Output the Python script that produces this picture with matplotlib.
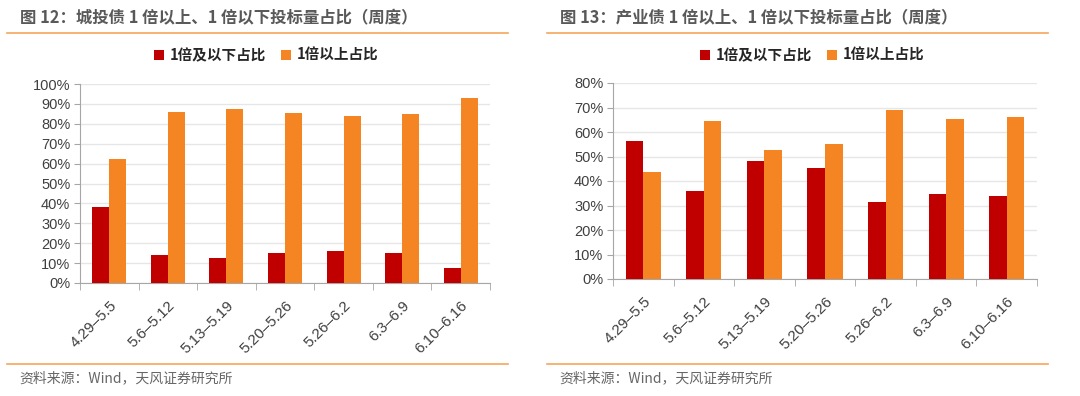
import matplotlib
matplotlib.use("Agg")
import matplotlib.pyplot as plt
import numpy as np
from matplotlib.ticker import FuncFormatter, MultipleLocator

plt.rcParams["font.family"] = ["Liberation Sans", "Noto Sans CJK SC", "DejaVu Sans"]

weeks = ["4.29–5.5", "5.6–5.12", "5.13–5.19", "5.20–5.26", "5.26–6.2", "6.3–6.9", "6.10–6.16"]
series_names = ["1倍及以下占比", "1倍以上占比"]

# 城投债
chengtou_low = [38.1, 14.3, 12.4, 14.9, 16.3, 15.3, 7.6]
chengtou_high = [62.2, 85.9, 87.6, 85.2, 83.9, 84.9, 93.0]
# 产业债
chanye_low = [56.5, 35.9, 48.0, 45.2, 31.4, 34.8, 34.0]
chanye_high = [43.8, 64.5, 52.5, 55.1, 68.8, 65.4, 66.1]

titles = ["图 12：城投债 1 倍以上、1 倍以下投标量占比（周度）",
          "图 13：产业债 1 倍以上、1 倍以下投标量占比（周度）"]
source = "资料来源：Wind，天风证券研究所"

RED = "#C00000"
ORANGE = "#F58423"
LINE = "#F5A55A"
GRID = "#E6E6E6"
AXIS = "#A6A6A6"
TXT = "#404040"

W, H = 1080, 396
fig = plt.figure(figsize=(W / 100, H / 100), dpi=100)


def px(x0, y0, x1, y1):
    return [x0 / W, 1 - y1 / H, (x1 - x0) / W, (y1 - y0) / H]


def panel(ox, low, high, ymax, ax_box, title, legend_x):
    # header / footer
    fig.add_artist(plt.Line2D([(ox + 7) / W, (ox + 508) / W], [1 - 33 / H] * 2, color=LINE, lw=1.2))
    fig.add_artist(plt.Line2D([(ox + 7) / W, (ox + 508) / W], [1 - 364 / H] * 2, color=LINE, lw=1.2))
    fig.text((ox + 20) / W, 1 - 18 / H, title, fontsize=11.8, fontweight="bold", color="#595959",
             va="center", ha="left", family=["Noto Sans CJK SC", "DejaVu Sans"])
    fig.text((ox + 19) / W, 1 - 378 / H, source, fontsize=10, color="#666666",
             va="center", ha="left", family=["Noto Sans CJK SC", "DejaVu Sans"])

    ax = fig.add_axes(px(*ax_box))
    x = np.arange(len(weeks))
    w = 0.29
    ax.bar(x - w / 2, low, w, color=RED, label=series_names[0], zorder=3)
    ax.bar(x + w / 2, high, w, color=ORANGE, label=series_names[1], zorder=3)
    ax.set_xlim(-0.5, len(weeks) - 0.5)
    ax.set_ylim(0, ymax)
    ax.yaxis.set_major_locator(MultipleLocator(10))
    ax.yaxis.set_major_formatter(FuncFormatter(lambda v, p: f"{v:.0f}%"))
    ax.grid(axis="y", color=GRID, lw=1, zorder=0)
    for s in ["top", "right"]:
        ax.spines[s].set_visible(False)
    for s in ["left", "bottom"]:
        ax.spines[s].set_color(AXIS)
    ax.set_xticks(x)
    ax.set_xticklabels(weeks, rotation=45, ha="right", rotation_mode="anchor", fontsize=11, color=TXT)
    ax.tick_params(axis="x", length=0, pad=11)
    ax.set_xticks(np.arange(-0.5, len(weeks)), minor=True)
    ax.tick_params(axis="x", which="minor", length=5, color=AXIS)
    ax.tick_params(axis="y", length=4, color=AXIS, labelsize=10.5, labelcolor=TXT, pad=3)
    leg = fig.legend(*ax.get_legend_handles_labels(), loc="center", bbox_to_anchor=(legend_x / W, 1 - 55 / H),
                     ncol=2, frameon=False, handlelength=0.7, handleheight=0.7, columnspacing=1.0,
                     handletextpad=0.4, prop={"family": ["Noto Sans CJK SC", "DejaVu Sans"],
                                              "weight": "bold", "size": 10.5})
    for t in leg.get_texts():
        t.set_color("#262626")
    return ax


panel(0, chengtou_low, chengtou_high, 100, (80, 84, 490, 283), titles[0], 266)
panel(540, chanye_low, chanye_high, 80, (613, 83, 1037, 279), titles[1], 812)

fig.savefig("out.png", dpi=100)
